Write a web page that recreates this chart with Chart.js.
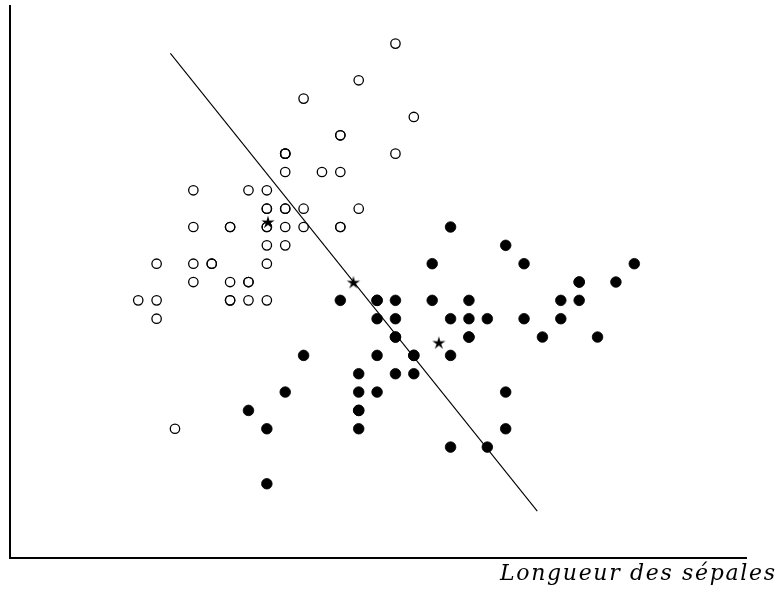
<!DOCTYPE html>
<html>
<head>
<meta charset="utf-8">
<script src="https://cdn.jsdelivr.net/npm/chart.js@4/dist/chart.umd.min.js"></script>
<style>
  html, body { margin: 0; padding: 0; background: #fff; }
  .chart-container { position: relative; width: 776px; height: 593px; }
</style>
</head>
<body>
<div class="chart-container">
  <canvas id="sepalChart"></canvas>
</div>
<script>
// sepal length / width (open circles)
const openLength = [5.1, 4.9, 4.7, 4.6, 5.0, 5.4, 4.6, 5.0, 4.4, 4.9, 5.4, 4.8, 4.8, 4.3, 5.8, 5.7, 5.4, 5.1, 5.7, 5.1, 5.4, 5.1, 4.6, 5.1, 4.8, 5.0, 5.0, 5.2, 5.2, 4.7, 4.8, 5.4, 5.2, 5.5, 4.9, 5.0, 5.5, 4.9, 4.4, 5.1, 5.0, 4.5, 4.4, 5.0, 5.1, 4.8, 5.1, 4.6, 5.3, 5.0];
const openWidth = [3.5, 3.0, 3.2, 3.1, 3.6, 3.9, 3.4, 3.4, 2.9, 3.1, 3.7, 3.4, 3.0, 3.0, 4.0, 4.4, 3.9, 3.5, 3.8, 3.8, 3.4, 3.7, 3.6, 3.3, 3.4, 3.0, 3.4, 3.5, 3.4, 3.2, 3.1, 3.4, 4.1, 4.2, 3.1, 3.2, 3.5, 3.6, 3.0, 3.4, 3.5, 2.3, 3.2, 3.5, 3.8, 3.0, 3.8, 3.2, 3.7, 3.3];

// filled dots
const filledLength = [7.0, 6.4, 6.9, 5.5, 6.5, 5.7, 6.3, 4.9, 6.6, 5.2, 5.0, 5.9, 6.0, 6.1, 5.6, 6.7, 5.6, 5.8, 6.2, 5.6, 5.9, 6.1, 6.3, 6.1, 6.4, 6.6, 6.8, 6.7, 6.0, 5.7, 5.5, 5.5, 5.8, 6.0, 5.4, 6.0, 6.7, 6.3, 5.6, 5.5, 5.5, 6.1, 5.8, 5.0, 5.6, 5.7, 5.7, 6.2, 5.1, 5.7];
const filledWidth = [3.2, 3.2, 3.1, 2.3, 2.8, 2.8, 3.3, 2.4, 2.9, 2.7, 2.0, 3.0, 2.2, 2.9, 2.9, 3.1, 3.0, 2.7, 2.2, 2.5, 3.2, 2.8, 2.5, 2.8, 2.9, 3.0, 2.8, 3.0, 2.9, 2.6, 2.4, 2.4, 2.7, 2.7, 3.0, 3.4, 3.1, 2.3, 3.0, 2.5, 2.6, 3.0, 2.6, 2.3, 2.7, 3.0, 2.9, 2.9, 2.5, 2.8];

// the three stars (two centres and the point between them)
const starLength = [5.006, 5.471, 5.936];
const starWidth = [3.428, 3.099, 2.770];

// ends of the separating line
const lineLength = [4.475, 6.472];
const lineWidth = [4.347, 1.851];

const xRange = [3.602, 7.608];
const yRange = [1.598, 4.605];
const axisTitle = "Longueur des sépales";

const toPoints = (xs, ys) => xs.map((x, i) => ({ x: x, y: ys[i] }));

// thin five-pointed star like \star
const makeStar = () => {
  const size = 18;
  const c = document.createElement("canvas");
  c.width = size;
  c.height = size;
  const g = c.getContext("2d");
  const cx = size / 2, cy = size / 2 + 0.7;
  const outer = 7, inner = 2.4;
  g.beginPath();
  for (let i = 0; i < 10; i++) {
    const r = i % 2 === 0 ? outer : inner;
    const a = -Math.PI / 2 + i * Math.PI / 5;
    const px = cx + r * Math.cos(a), py = cy + r * Math.sin(a);
    if (i === 0) g.moveTo(px, py); else g.lineTo(px, py);
  }
  g.closePath();
  g.fillStyle = "#000";
  g.fill();
  return c;
};

// axis name sits under the right end of the x axis, running past it
const titlePlugin = {
  id: "cornerTitle",
  afterDraw(chart) {
    const ctx = chart.ctx;
    ctx.save();
    ctx.font = "italic 22px 'DejaVu Serif', 'Liberation Serif', serif";
    ctx.fillStyle = "#000";
    ctx.textBaseline = "alphabetic";
    ctx.textAlign = "left";
    const plain = ctx.measureText(axisTitle).width;
    const target = 275;
    const spacing = Math.max(0, (target - plain) / (axisTitle.length - 1));
    ctx.letterSpacing = spacing.toFixed(2) + "px";
    ctx.fillText(axisTitle, 500, 580);
    ctx.restore();
  },
};

const ctx = document.getElementById("sepalChart").getContext("2d");
new Chart(ctx, {
  type: "scatter",
  data: {
    datasets: [
      {
        label: "centres",
        data: toPoints(starLength, starWidth),
        pointStyle: makeStar(),
        pointRadius: 9,
        order: 0,
      },
      {
        label: "separation",
        data: toPoints(lineLength, lineWidth),
        showLine: true,
        borderColor: "#000",
        borderWidth: 1.1,
        pointRadius: 0,
        order: 1,
      },
      {
        label: "open",
        data: toPoints(openLength, openWidth),
        pointStyle: "circle",
        pointRadius: 4.7,
        pointBorderWidth: 1.3,
        pointBorderColor: "#000",
        pointBackgroundColor: "rgba(255,255,255,0)",
        order: 2,
      },
      {
        label: "filled",
        data: toPoints(filledLength, filledWidth),
        pointStyle: "circle",
        pointRadius: 5.3,
        pointBorderWidth: 0.8,
        pointBorderColor: "#000",
        pointBackgroundColor: "#000",
        order: 3,
      },
    ],
  },
  options: {
    responsive: true,
    maintainAspectRatio: false,
    animation: false,
    layout: {
      autoPadding: false,
      padding: { left: 10, top: 6, right: 30, bottom: 35.5 },
    },
    plugins: {
      legend: { display: false },
      tooltip: { enabled: false },
    },
    scales: {
      x: {
        type: "linear",
        min: xRange[0],
        max: xRange[1],
        ticks: { display: false },
        grid: { display: false, drawTicks: false },
        border: { display: true, color: "#000", width: 2 },
      },
      y: {
        type: "linear",
        min: yRange[0],
        max: yRange[1],
        ticks: { display: false },
        grid: { display: false, drawTicks: false },
        border: { display: true, color: "#000", width: 2 },
      },
    },
  },
  plugins: [titlePlugin],
});
</script>
</body>
</html>
